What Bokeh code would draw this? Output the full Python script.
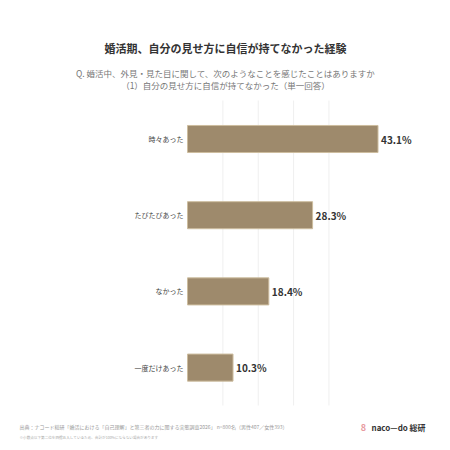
from bokeh.plotting import figure
from bokeh.models import ColumnDataSource, Range1d, Label
from bokeh.core.properties import value
from bokeh.embed import file_html
from bokeh.resources import INLINE

categories = ["時々あった", "たびたびあった", "なかった", "一度だけあった"]
values = [43.1, 28.3, 18.4, 10.3]
value_labels = ["43.1%", "28.3%", "18.4%", "10.3%"]
grid_ticks = [8, 16, 24, 32]

title_text = "婚活期、自分の見せ方に自信が持てなかった経験"
sub1 = "Q. 婚活中、外見・見た目に関して、次のようなことを感じたことはありますか"
sub2 = "（1）自分の見せ方に自信が持てなかった（単一回答）"
foot1 = "出典：ナコード総研「婚活における「自己理解」と第三者の力に関する実態調査2026」 n=800名（男性407／女性393）"
foot2 = "※小数点以下第二位を四捨五入しているため、合計が100%にならない場合があります"

FONT = "Noto Sans CJK JP"
W, H = 445, 445
X0, PX_PER = 187, 4.42        # page x of 0%, pixels per percent
Y0, ROW = 138.5, 76.2         # page y of first row centre, row spacing

idx = list(range(len(categories)))
src = ColumnDataSource(dict(cat=categories, val=values, lab=value_labels, y=idx,
                            zero=[0] * len(idx)))

p = figure(width=W, height=H, output_backend="svg", toolbar_location=None,
           x_range=Range1d(-X0 / PX_PER, (W - X0) / PX_PER),
           y_range=Range1d((H - Y0) / ROW, -Y0 / ROW),
           min_border=0)
p.outline_line_color = None
p.background_fill_color = "white"
p.border_fill_color = "white"
p.xaxis.visible = False
p.yaxis.visible = False
p.grid.visible = False

# vertical grid lines
g_top = (100 - Y0) / ROW
g_bot = (405 - Y0) / ROW
p.segment(x0=grid_ticks, x1=grid_ticks, y0=[g_top] * len(grid_ticks),
          y1=[g_bot] * len(grid_ticks), line_color="#efefef", line_width=1)

p.hbar(y="y", right="val", left=0, height=0.355, source=src,
       fill_color="#9e8a6c", line_color="#cdbd9f", line_width=1)
p.text(x="val", y="y", text="lab", source=src, x_offset=3,
       text_baseline="middle", text_align="left",
       text_font=value(FONT), text_font_style="bold",
       text_font_size="10px", text_color="#333333")
p.text(x="zero", y="y", text="cat", source=src, x_offset=-4,
       text_baseline="middle", text_align="right",
       text_font=value(FONT), text_font_size="7px", text_color="#444444")

def add_label(text, px, py, size, color, bold=False, align="center"):
    p.add_layout(Label(x=px, y=H - py, x_units="screen", y_units="screen",
                       text=text, text_font=FONT, text_font_size=size, text_color=color,
                       text_font_style="bold" if bold else "normal",
                       text_align=align, text_baseline="middle"))

add_label(title_text, 225, 47, "11px", "#333333", bold=True)
add_label(sub1, 225, 72, "8.5px", "#777777")
add_label(sub2, 225, 84, "8.5px", "#777777")
add_label(foot1, 19, 426, "5px", "#999999", align="left")
add_label(foot2, 19, 437, "3.6px", "#aaaaaa", align="left")
add_label("8", 363, 427, "9px", "#e89aa0", bold=True)
add_label("naco—do 総研", 371, 427, "8px", "#333333", bold=True, align="left")

open("out.html", "w").write(file_html(p, INLINE))
